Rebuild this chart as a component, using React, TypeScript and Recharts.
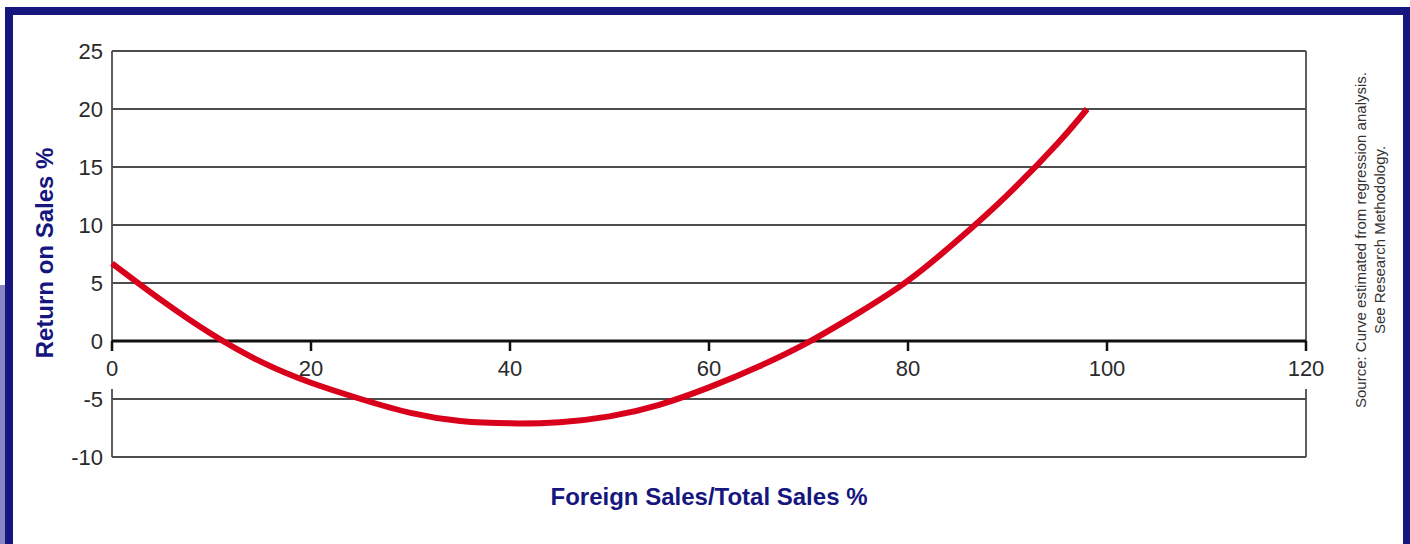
import React from "react";
import {
  ComposedChart,
  Line,
  Scatter,
  XAxis,
  YAxis,
  CartesianGrid,
  ReferenceLine,
} from "recharts";

// foreign sales share (%)
const foreignShare = [0, 5, 10, 15, 20, 25, 30, 35, 40, 45, 50, 55, 60, 65, 70, 75, 80, 85, 90, 95, 98];
// return on sales (%) at those points
const returnOnSales = [6.7, 3.5, 0.6, -1.8, -3.6, -5.0, -6.2, -6.9, -7.1, -7.0, -6.5, -5.5, -4.0, -2.2, -0.1, 2.4, 5.2, 8.7, 12.6, 17.0, 20.0];

const xTicks = [0, 20, 40, 60, 80, 100, 120];
const yTicks = [-10, -5, 0, 5, 10, 15, 20, 25];

const NAVY = "#16167f";
const RED = "#d8001a";

const curve = foreignShare.map((x, i) => ({ x, y: returnOnSales[i] }));
// x-axis labels sit on the zero line, so they are placed through the scales as points at y = 0
const axisMarks = xTicks.map((x) => ({ x, y: 0 }));

const AxisMark = (props: any) => {
  const { cx, cy, payload } = props;
  const edge = payload.x === xTicks[0] || payload.x === xTicks[xTicks.length - 1];
  return (
    <g>
      {edge && <rect x={cx - 20} y={cy + 10} width={40} height={38} fill="#fff" />}
      <line x1={cx} y1={cy} x2={cx} y2={cy + 10} stroke="#111" strokeWidth={2.5} />
      <text
        x={cx}
        y={cy + 35}
        textAnchor="middle"
        fontFamily="'Liberation Sans', Arial, sans-serif"
        fontSize={22}
        fill="#2a2a2a"
      >
        {payload.x}
      </text>
    </g>
  );
};

const App: React.FC = () => {
  return (
    <div
      style={{
        position: "absolute",
        left: 0,
        top: 0,
        width: 1410,
        height: 544,
        background: "#fff",
        overflow: "hidden",
      }}
    >
      {/* frame */}
      <div style={{ position: "absolute", left: 0, top: 285, width: 5, height: 259, background: "#8787c3" }} />
      <div style={{ position: "absolute", left: 5, top: 7, width: 8, height: 537, background: NAVY }} />
      <div style={{ position: "absolute", left: 5, top: 7, width: 1405, height: 8, background: NAVY }} />
      <div style={{ position: "absolute", left: 1403, top: 7, width: 7, height: 537, background: NAVY }} />

      <div style={{ position: "absolute", left: 0, top: 0 }}>
        <ComposedChart
          width={1410}
          height={544}
          margin={{ top: 51, right: 104, bottom: 87, left: 52 }}
        >
          <CartesianGrid
            stroke="#4d4d4d"
            strokeWidth={1.8}
            horizontal
            verticalCoordinatesGenerator={({ offset }: any) => [offset.left, offset.left + offset.width]}
          />
          <XAxis dataKey="x" type="number" domain={[0, 120]} ticks={xTicks} hide />
          <YAxis
            type="number"
            domain={[-10, 25]}
            ticks={yTicks}
            width={60}
            axisLine={false}
            tickLine={false}
            tickSize={0}
            tickMargin={9}
            interval={0}
            tick={{ fontSize: 22, fill: "#2a2a2a", fontFamily: "'Liberation Sans', Arial, sans-serif" }}
          />
          <ReferenceLine y={0} stroke="#111" strokeWidth={3} />
          <Scatter data={axisMarks} dataKey="y" shape={AxisMark} isAnimationActive={false} />
          <Line
            data={curve}
            dataKey="y"
            type="natural"
            stroke={RED}
            strokeWidth={6}
            dot={false}
            activeDot={false}
            isAnimationActive={false}
          />
        </ComposedChart>
      </div>

      {/* axis titles */}
      <div
        style={{
          position: "absolute",
          left: 45,
          top: 253,
          transform: "translate(-50%, -50%) rotate(-90deg)",
          whiteSpace: "nowrap",
          fontFamily: "'Liberation Sans', Arial, sans-serif",
          fontWeight: "bold",
          fontSize: 24,
          color: NAVY,
        }}
      >
        Return on Sales %
      </div>
      <div
        style={{
          position: "absolute",
          left: 709,
          top: 497,
          transform: "translate(-50%, -50%)",
          whiteSpace: "nowrap",
          fontFamily: "'Liberation Sans', Arial, sans-serif",
          fontWeight: "bold",
          fontSize: 24,
          color: NAVY,
        }}
      >
        Foreign Sales/Total Sales %
      </div>

      {/* source note */}
      <div
        style={{
          position: "absolute",
          left: 1360,
          top: 240,
          transform: "translate(-50%, -50%) rotate(-90deg)",
          whiteSpace: "nowrap",
          fontFamily: "'Liberation Sans', Arial, sans-serif",
          fontSize: 15,
          color: "#333",
        }}
      >
        Source: Curve estimated from regression analysis.
      </div>
      <div
        style={{
          position: "absolute",
          left: 1379,
          top: 240,
          transform: "translate(-50%, -50%) rotate(-90deg)",
          whiteSpace: "nowrap",
          fontFamily: "'Liberation Sans', Arial, sans-serif",
          fontSize: 15,
          color: "#333",
        }}
      >
        See Research Methodology.
      </div>
    </div>
  );
};

export default App;
